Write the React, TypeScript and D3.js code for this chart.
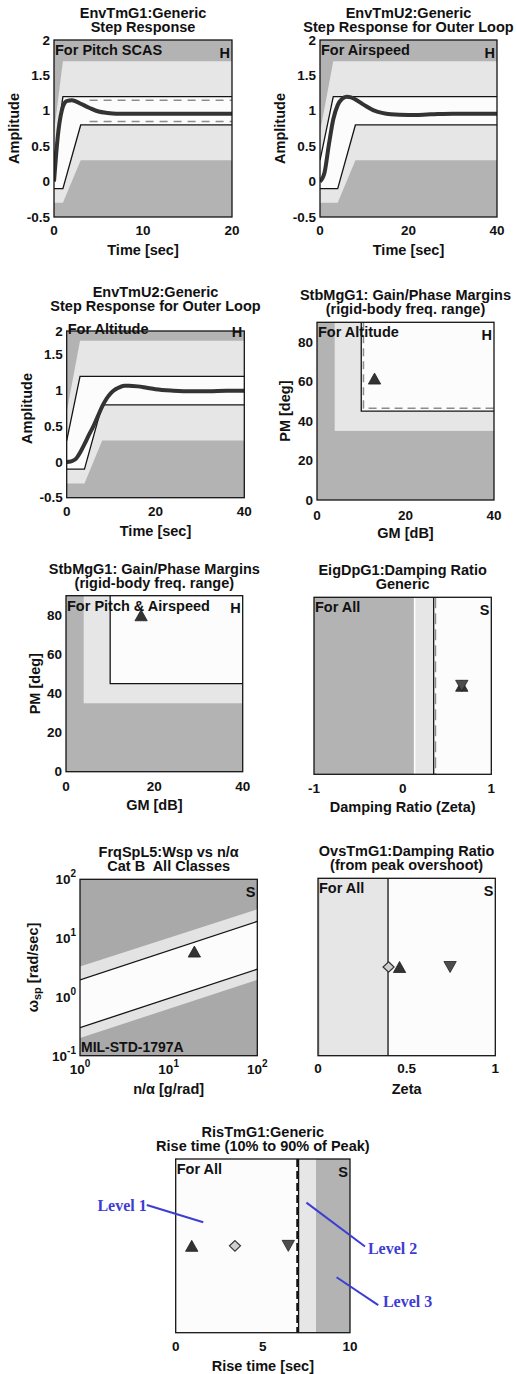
import React from 'react';
import * as d3 from 'd3';

type Pt = [number, number];

const DARK = '#b3b3b3';
const LIGHT = '#e6e6e6';
const WHITE = '#fcfcfc';
const INK = '#141414';
const CURVE = '#333333';
const BLUE = '#3d3dd4';

// ---- step response: pitch SCAS ----
const pitchTime = [0, 0.25, 0.5, 0.75, 1, 1.25, 1.5, 2, 2.5, 3, 4, 5, 6, 7, 8, 10, 15, 20];
const pitchAmp = [0, 0.4, 0.72, 0.93, 1.06, 1.12, 1.14, 1.15, 1.13, 1.1, 1.04, 0.99, 0.97, 0.96, 0.96, 0.96, 0.96, 0.96];
const pitchL1Upper: Pt[] = [[0, 0.3], [1, 1.2], [20, 1.2]];
const pitchL1Lower: Pt[] = [[0, -0.1], [1, -0.1], [3, 0.8], [20, 0.8]];
const pitchL2Upper: Pt[] = [[0, 0.7], [1, 1.7], [20, 1.7]];
const pitchL2Lower: Pt[] = [[0, -0.3], [1, -0.3], [3, 0.3], [20, 0.3]];
const pitchDashed: Pt[][] = [[[4, 1.15], [20, 1.15]], [[4, 0.85], [20, 0.85]]];

// ---- step response: outer loop (airspeed, altitude) ----
const airTime = [0, 1, 2, 3, 4, 5, 6, 7, 8, 10, 12, 14, 16, 20, 25, 30, 40];
const airAmp = [0, 0.12, 0.52, 0.88, 1.08, 1.17, 1.2, 1.19, 1.16, 1.08, 1.01, 0.97, 0.95, 0.94, 0.95, 0.96, 0.96];
const altTime = [0, 1, 2, 3, 4, 5, 6, 7, 8, 9, 10, 11, 12, 13, 14, 16, 18, 20, 24, 28, 32, 36, 40];
const altAmp = [0, 0.01, 0.04, 0.13, 0.25, 0.38, 0.5, 0.64, 0.78, 0.89, 0.97, 1.02, 1.05, 1.07, 1.07, 1.06, 1.04, 1.02, 1.0, 0.99, 0.99, 1.0, 1.0];
const outerL1Upper: Pt[] = [[0, 0.3], [3, 1.2], [40, 1.2]];
const outerL1Lower: Pt[] = [[0, -0.1], [4, -0.1], [8, 0.8], [40, 0.8]];
const outerL2Upper: Pt[] = [[0, 0.7], [3, 1.7], [40, 1.7]];
const outerL2Lower: Pt[] = [[0, -0.3], [4, -0.3], [8, 0.3], [40, 0.3]];
const ampTicks = [-0.5, 0, 0.5, 1, 1.5, 2];

// ---- gain / phase margins ----
const gmLevel1 = 10, pmLevel1 = 45;
const gmLevel2 = 4, pmLevel2 = 35;
const altMarginDashed: Pt = [10.5, 46.5];
const altMargins: Pt[] = [[13, 61.5]];
const pitchMargins: Pt[] = [[17, 80]];
const pmTicks = [0, 20, 40, 60, 80];
const gmTicks = [0, 20, 40];

// ---- eigen damping ----
const eigLevel1 = 0.35, eigLevel2 = 0.135, eigDashed = 0.37;
const eigPoints = [{ v: 0.667, s: 'up' }, { v: 0.667, s: 'down' }];

// ---- short period frequency (MIL-STD-1797A Cat B) ----
const nAlpha = [1, 100];
const wspL1Upper = [1.95, 19.2];
const wspL1Lower = [0.3, 2.96];
const wspL2Upper = [3.28, 31];
const wspL2Lower = [0.2, 1.95];
const wspPoints: Pt[] = [[19.5, 5.9]];
const logTicks = [0.1, 1, 10, 100];

// ---- overshoot damping ----
const ovsLevel1 = 0.395, ovsLevel3 = 0.008;
const ovsPoints = [{ v: 0.398, s: 'diamond' }, { v: 0.46, s: 'up' }, { v: 0.745, s: 'down' }];

// ---- rise time ----
const risLevel1 = 7.05, risLevel2 = 8.05, risDashed = 6.98;
const risPoints = [{ v: 0.92, s: 'up' }, { v: 3.4, s: 'diamond' }, { v: 6.46, s: 'down' }];
const levelNotes = [
  { name: 'Level 1', from: [-1.66, 0.265], to: [1.58, 0.364], anchor: 'end', at: [-1.66, 0.265] },
  { name: 'Level 2', from: [7.5, 0.251], to: [10.86, 0.504], anchor: 'start', at: [11.03, 0.518] },
  { name: 'Level 3', from: [9.23, 0.681], to: [11.62, 0.841], anchor: 'start', at: [11.89, 0.823] },
];

// ---- markers, centered on their bounding box ----
const triUp = { draw(c: any, size: number) { const s = Math.sqrt(size); c.moveTo(0, -s / 2); c.lineTo(s * 0.56, s / 2); c.lineTo(-s * 0.56, s / 2); c.closePath(); } };
const triDown = { draw(c: any, size: number) { const s = Math.sqrt(size); c.moveTo(0, s / 2); c.lineTo(s * 0.56, -s / 2); c.lineTo(-s * 0.56, -s / 2); c.closePath(); } };
const diamond = { draw(c: any, size: number) { const s = Math.sqrt(size) / 2; c.moveTo(0, -s); c.lineTo(s * 1.05, 0); c.lineTo(0, s); c.lineTo(-s * 1.05, 0); c.closePath(); } };

function Marker({ x, y, s }: { x: number; y: number; s: string }) {
  if (s === 'diamond') {
    return <path d={d3.symbol(diamond as any, 110)() || ''} transform={`translate(${x},${y})`} fill="#cfcfcf" stroke="#333" strokeWidth={1.2} />;
  }
  const type = s === 'up' ? triUp : triDown;
  return <path d={d3.symbol(type as any, 121)() || ''} transform={`translate(${x},${y})`} fill={s === 'up' ? '#333' : '#4d4d4d'} stroke="#222" strokeWidth={0.8} />;
}

type Box = { l: number; t: number; r: number; b: number; vt?: number };

function Frame(props: {
  id: string; box: Box; title: string[]; xLabel: React.ReactNode; yLabel?: React.ReactNode; yLabelDx?: number;
  x: any; y: any; xTicks: number[]; yTicks?: number[]; fmt?: (v: number) => React.ReactNode;
  tag: string; mark: string; children: React.ReactNode; tickDy?: number;
}) {
  const { id, box, title, xLabel, yLabel, yLabelDx = 40, x, y, xTicks, yTicks = [], tag, mark, children } = props;
  const fmt = props.fmt || ((v: number) => String(v));
  const vt = box.vt ?? box.t;
  const cx = (box.l + box.r) / 2;
  const cy = (box.t + box.b) / 2;
  return (
    <g>
      <defs>
        <clipPath id={id}><rect x={box.l} y={vt} width={box.r - box.l} height={box.b - vt} /></clipPath>
      </defs>
      <g clipPath={`url(#${id})`}>{children}</g>
      <rect x={box.l} y={vt} width={box.r - box.l} height={box.b - vt} fill="none" stroke={INK} strokeWidth={1.3} />
      {title.map((s, i) => (
        <text key={i} x={cx} y={box.t - 27 + i * 14} textAnchor="middle" dominantBaseline="central" fontSize={14.5} fontWeight="bold" style={{ whiteSpace: 'pre' }}>{s}</text>
      ))}
      {xTicks.map(v => (
        <text key={'x' + v} x={x(v)} y={box.b + (props.tickDy ?? 14)} textAnchor="middle" dominantBaseline="central" fontSize={13.5} fontWeight="bold">{fmt(v)}</text>
      ))}
      {yTicks.map(v => (
        <text key={'y' + v} x={box.l - 4} y={Math.max(y(v), vt)} textAnchor="end" dominantBaseline="central" fontSize={13.5} fontWeight="bold">{fmt(v)}</text>
      ))}
      <text x={cx} y={box.b + 33} textAnchor="middle" dominantBaseline="central" fontSize={14.5} fontWeight="bold">{xLabel}</text>
      {yLabel && (
        <text transform={`translate(${box.l - yLabelDx},${cy}) rotate(-90)`} textAnchor="middle" dominantBaseline="central" fontSize={14.5} fontWeight="bold">{yLabel}</text>
      )}
      <text x={box.l + 1} y={box.t + 10} dominantBaseline="central" fontSize={14.5} fontWeight="bold">{tag}</text>
      <text x={box.r - 2} y={box.t + 12.5} textAnchor="end" dominantBaseline="central" fontSize={14.5} fontWeight="bold">{mark}</text>
    </g>
  );
}

function StepPanel(props: {
  id: string; box: Box; tMax: number; title: string[]; tag: string;
  time: number[]; amp: number[]; l1u: Pt[]; l1l: Pt[]; l2u: Pt[]; l2l: Pt[]; dashed?: Pt[][];
}) {
  const { box } = props;
  const x = d3.scaleLinear().domain([0, props.tMax]).range([box.l, box.r]);
  const y = d3.scaleLinear().domain([-0.5, 2]).range([box.b, box.t]);
  const line = d3.line<Pt>().x(d => x(d[0])).y(d => y(d[1]));
  const band = (u: Pt[], l: Pt[]) => line(u.concat(l.slice().reverse())) + 'Z';
  const curve: Pt[] = props.time.map((t, i) => [t, props.amp[i]]);
  return (
    <Frame id={props.id} box={box} title={props.title} xLabel="Time [sec]" yLabel="Amplitude" yLabelDx={40}
      x={x} y={y} xTicks={[0, props.tMax / 2, props.tMax]} yTicks={ampTicks} tag={props.tag} mark="H" tickDy={13.5}>
      <rect x={box.l} y={box.t} width={box.r - box.l} height={box.b - box.t} fill={DARK} />
      <path d={band(props.l2u, props.l2l)} fill={LIGHT} />
      <path d={band(props.l1u, props.l1l)} fill={WHITE} />
      <path d={line(props.l1u) || ''} fill="none" stroke={INK} strokeWidth={1.3} />
      <path d={line(props.l1l) || ''} fill="none" stroke={INK} strokeWidth={1.3} />
      {(props.dashed || []).map((seg, i) => (
        <path key={i} d={line(seg) || ''} fill="none" stroke="#8c8c8c" strokeWidth={1.5} strokeDasharray="8 6" />
      ))}
      <path d={d3.line<Pt>().x(d => x(d[0])).y(d => y(d[1])).curve(d3.curveMonotoneX)(curve) || ''} fill="none" stroke={CURVE} strokeWidth={4} strokeLinejoin="round" />
    </Frame>
  );
}

function MarginPanel(props: { id: string; box: Box; tag: string; points: Pt[]; dashed?: Pt; yLabelDx: number }) {
  const { box } = props;
  const x = d3.scaleLinear().domain([0, 40]).range([box.l, box.r]);
  const y = d3.scaleLinear().domain([0, 90]).range([box.b, box.t]);
  const line = d3.line<Pt>().x(d => x(d[0])).y(d => y(d[1]));
  return (
    <Frame id={props.id} box={box} title={['StbMgG1: Gain/Phase Margins', '(rigid-body freq. range)']} xLabel="GM [dB]" yLabel="PM [deg]"
      yLabelDx={props.yLabelDx} x={x} y={y} xTicks={gmTicks} yTicks={pmTicks} tag={props.tag} mark="H" tickDy={15}>
      <rect x={box.l} y={box.t} width={box.r - box.l} height={box.b - box.t} fill={DARK} />
      <rect x={x(gmLevel2)} y={y(90)} width={x(40) - x(gmLevel2)} height={y(pmLevel2) - y(90)} fill={LIGHT} />
      <rect x={x(gmLevel1)} y={y(90)} width={x(40) - x(gmLevel1)} height={y(pmLevel1) - y(90)} fill={WHITE} />
      {props.dashed && (
        <path d={line([[props.dashed[0], 90], props.dashed, [40, props.dashed[1]]]) || ''} fill="none" stroke="#8c8c8c" strokeWidth={1.5} strokeDasharray="8 5" />
      )}
      <path d={line([[gmLevel1, 90], [gmLevel1, pmLevel1], [40, pmLevel1]]) || ''} fill="none" stroke={INK} strokeWidth={1.3} />
      {props.points.map((p, i) => <Marker key={i} x={x(p[0])} y={y(p[1])} s="up" />)}
    </Frame>
  );
}

export default function App() {
  // eigen damping
  const b6: Box = { l: 314, t: 597.3, r: 491.3, b: 774.3 };
  const x6 = d3.scaleLinear().domain([-1, 1]).range([b6.l, b6.r]);
  const y6 = d3.scaleLinear().domain([0, 1]).range([b6.t, b6.b]);

  // short period
  const b7: Box = { l: 80, t: 879.3, r: 257.3, b: 1055.7 };
  const x7 = d3.scaleLog().domain([1, 100]).range([b7.l, b7.r]);
  const y7 = d3.scaleLog().domain([0.1, 100]).range([b7.b, b7.t]);
  const pts = (vals: number[]): Pt[] => nAlpha.map((n, i) => [n, vals[i]]);
  const line7 = d3.line<Pt>().x(d => x7(d[0])).y(d => y7(d[1]));
  const band7 = (u: number[], l: number[]) => line7(pts(u).concat(pts(l).reverse())) + 'Z';
  const logFmt = (v: number) => (
    <>
      <tspan>10</tspan>
      <tspan dy={-6} fontSize={10}>{String(Math.round(Math.log10(v)))}</tspan>
    </>
  );

  // overshoot
  const b8: Box = { l: 318, t: 878.3, r: 495.3, b: 1055.7 };
  const x8 = d3.scaleLinear().domain([0, 1]).range([b8.l, b8.r]);
  const y8 = d3.scaleLinear().domain([0, 1]).range([b8.t, b8.b]);

  // rise time
  const b9: Box = { l: 175.7, t: 1159, r: 350, b: 1332.7 };
  const x9 = d3.scaleLinear().domain([0, 10]).range([b9.l, b9.r]);
  const y9 = d3.scaleLinear().domain([0, 1]).range([b9.t, b9.b]);

  return (
    <svg width={517} height={1374} style={{ position: 'absolute', left: 0, top: 0, background: '#fff' }}
      fontFamily="'Liberation Sans', Arial, sans-serif" fill="#111">
      <StepPanel id="c1" box={{ l: 54, t: 40, r: 232, b: 217 }} tMax={20} title={['EnvTmG1:Generic', 'Step Response']}
        tag="For Pitch SCAS" time={pitchTime} amp={pitchAmp} l1u={pitchL1Upper} l1l={pitchL1Lower} l2u={pitchL2Upper} l2l={pitchL2Lower} dashed={pitchDashed} />
      <StepPanel id="c2" box={{ l: 320, t: 40, r: 497, b: 217 }} tMax={40} title={['EnvTmU2:Generic', 'Step Response for Outer Loop']}
        tag="For Airspeed" time={airTime} amp={airAmp} l1u={outerL1Upper} l1l={outerL1Lower} l2u={outerL2Upper} l2l={outerL2Lower} />
      <StepPanel id="c3" box={{ l: 66.7, t: 319.3, r: 244.3, b: 497.7, vt: 331 }} tMax={40} title={['EnvTmU2:Generic', 'Step Response for Outer Loop']}
        tag="For Altitude" time={altTime} amp={altAmp} l1u={outerL1Upper} l1l={outerL1Lower} l2u={outerL2Upper} l2l={outerL2Lower} />
      <MarginPanel id="c4" box={{ l: 317, t: 322.3, r: 494, b: 500 }} tag="For Altitude" points={altMargins} dashed={altMarginDashed} yLabelDx={32} />
      <MarginPanel id="c5" box={{ l: 66, t: 595.7, r: 242.7, b: 771.7 }} tag="For Pitch & Airspeed" points={pitchMargins} yLabelDx={31} />

      <Frame id="c6" box={b6} title={['EigDpG1:Damping Ratio', 'Generic']} xLabel="Damping Ratio (Zeta)" x={x6} y={y6}
        xTicks={[-1, 0, 1]} tag="For All" mark="S" tickDy={14}>
        <rect x={b6.l} y={b6.t} width={b6.r - b6.l} height={b6.b - b6.t} fill={WHITE} />
        <rect x={x6(-1)} y={b6.t} width={x6(eigLevel1) - x6(-1)} height={b6.b - b6.t} fill={LIGHT} />
        <rect x={x6(-1)} y={b6.t} width={x6(eigLevel2) - x6(-1)} height={b6.b - b6.t} fill={DARK} />
        <line x1={x6(eigLevel2)} x2={x6(eigLevel2)} y1={b6.t} y2={b6.b} stroke="#fff" strokeWidth={1.5} />
        <line x1={x6(eigLevel1)} x2={x6(eigLevel1)} y1={b6.t} y2={b6.b} stroke={INK} strokeWidth={1.3} />
        <line x1={x6(eigDashed)} x2={x6(eigDashed)} y1={b6.t} y2={b6.b} stroke="#8c8c8c" strokeWidth={1.5} strokeDasharray="11 5" />
        {eigPoints.map((p, i) => <Marker key={i} x={x6(p.v)} y={y6(0.5)} s={p.s} />)}
      </Frame>

      <Frame id="c7" box={b7} title={['FrqSpL5:Wsp vs n/α', 'Cat B\u00A0 All Classes']}
        xLabel={<><tspan>n/α [g/rad]</tspan></>}
        yLabel={<><tspan>ω</tspan><tspan dy={4} fontSize={11}>sp</tspan><tspan dy={-4}> [rad/sec]</tspan></>}
        yLabelDx={47} x={x7} y={y7} xTicks={[1, 10, 100]} yTicks={logTicks} fmt={logFmt} tag="" mark="S" tickDy={13}>
        <rect x={b7.l} y={b7.t} width={b7.r - b7.l} height={b7.b - b7.t} fill="#a9a9a9" />
        <path d={band7(wspL2Upper, wspL2Lower)} fill="#e3e3e3" />
        <path d={band7(wspL1Upper, wspL1Lower)} fill={WHITE} />
        <path d={line7(pts(wspL1Upper)) || ''} stroke={INK} strokeWidth={1.3} fill="none" />
        <path d={line7(pts(wspL1Lower)) || ''} stroke={INK} strokeWidth={1.3} fill="none" />
        {wspPoints.map((p, i) => <Marker key={i} x={x7(p[0])} y={y7(p[1])} s="up" />)}
      </Frame>
      <text x={b7.l + 1} y={b7.b - 9} dominantBaseline="central" fontSize={14} fontWeight="bold">MIL-STD-1797A</text>

      <Frame id="c8" box={b8} title={['OvsTmG1:Damping Ratio', '(from peak overshoot)']} xLabel="Zeta" x={x8} y={y8}
        xTicks={[0, 0.5, 1]} tag="For All" mark="S" tickDy={13}>
        <rect x={b8.l} y={b8.t} width={b8.r - b8.l} height={b8.b - b8.t} fill={WHITE} />
        <rect x={x8(0)} y={b8.t} width={x8(ovsLevel1) - x8(0)} height={b8.b - b8.t} fill={LIGHT} />
        <rect x={x8(0)} y={b8.t} width={x8(ovsLevel3) - x8(0)} height={b8.b - b8.t} fill={DARK} />
        <line x1={x8(ovsLevel1)} x2={x8(ovsLevel1)} y1={b8.t} y2={b8.b} stroke={INK} strokeWidth={1.3} />
        {ovsPoints.map((p, i) => <Marker key={i} x={x8(p.v)} y={y8(0.5)} s={p.s} />)}
      </Frame>

      <Frame id="c9" box={b9} title={['RisTmG1:Generic', 'Rise time (10% to 90% of Peak)']} xLabel="Rise time [sec]" x={x9} y={y9}
        xTicks={[0, 5, 10]} tag="For All" mark="S" tickDy={14}>
        <rect x={b9.l} y={b9.t} width={b9.r - b9.l} height={b9.b - b9.t} fill={DARK} />
        <rect x={x9(0)} y={b9.t} width={x9(risLevel2) - x9(0)} height={b9.b - b9.t} fill={LIGHT} />
        <rect x={x9(0)} y={b9.t} width={x9(risLevel1) - x9(0)} height={b9.b - b9.t} fill={WHITE} />
        <line x1={x9(risLevel1)} x2={x9(risLevel1)} y1={b9.t} y2={b9.b} stroke={INK} strokeWidth={1.3} />
        <line x1={x9(risDashed)} x2={x9(risDashed)} y1={b9.t} y2={b9.b} stroke={INK} strokeWidth={2.2} strokeDasharray="8 4" />
        {risPoints.map((p, i) => <Marker key={i} x={x9(p.v)} y={y9(0.5)} s={p.s} />)}
      </Frame>
      {levelNotes.map(n => (
        <g key={n.name}>
          <line x1={x9(n.from[0])} y1={y9(n.from[1])} x2={x9(n.to[0])} y2={y9(n.to[1])} stroke={BLUE} strokeWidth={2} />
          <text x={x9(n.at[0])} y={y9(n.at[1])} textAnchor={n.anchor as any} dominantBaseline="central" fill={BLUE}
            fontFamily="'Liberation Serif', 'Times New Roman', serif" fontWeight="bold" fontSize={16}>{n.name}</text>
        </g>
      ))}
    </svg>
  );
}
